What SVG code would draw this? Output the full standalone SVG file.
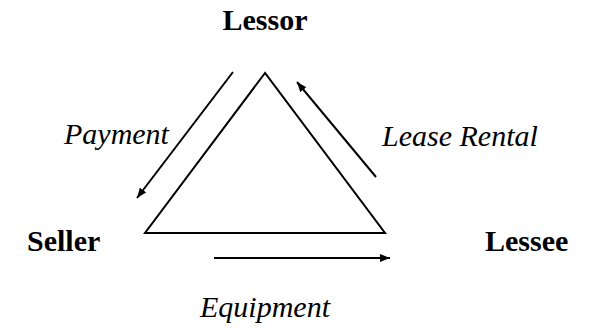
<svg xmlns="http://www.w3.org/2000/svg" width="589" height="333" viewBox="0 0 589 333">
<style>
.b{font-family:"Liberation Serif","Times New Roman",serif;font-weight:bold;font-size:30px;fill:#000}
.i{font-family:"Liberation Serif","Times New Roman",serif;font-style:italic;font-size:30px;fill:#000}
.ln{stroke:#000;stroke-width:2;fill:none}
</style>
<defs>
<marker id="ah" viewBox="0 0 10 8" refX="10" refY="4" markerWidth="10" markerHeight="8" markerUnits="userSpaceOnUse" orient="auto">
<path d="M0,0 L10,4 L0,8 Z" fill="#000"/>
</marker>
</defs>
<rect width="589" height="333" fill="#fff"/>
<g id="triangle"><polygon class="ln" points="265,73 145,233 385,233"/></g>
<g id="lessor"><text class="b" x="265" y="30" text-anchor="middle">Lessor</text></g>
<g id="seller"><text class="b" x="27" y="251">Seller</text></g>
<g id="lessee"><text class="b" x="485" y="251">Lessee</text></g>
<g id="connectors">
<line class="ln" x1="233" y1="72" x2="137" y2="198" marker-end="url(#ah)"/>
<line class="ln" x1="376" y1="177" x2="297" y2="82" marker-end="url(#ah)"/>
<line class="ln" x1="214" y1="258" x2="390" y2="258" marker-end="url(#ah)"/>
</g>
<g id="labels">
<text class="i" x="64" y="144">Payment</text>
<text class="i" x="382" y="146">Lease Rental</text>
<text class="i" x="200" y="317">Equipment</text>
</g>
</svg>
